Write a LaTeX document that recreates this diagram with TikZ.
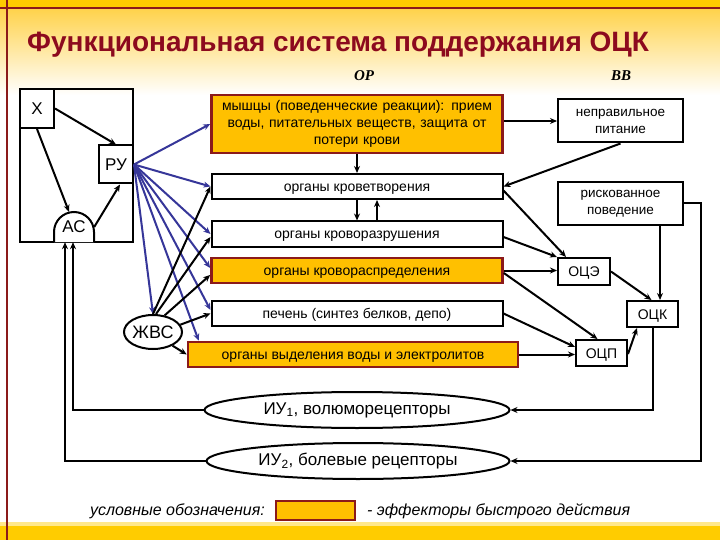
\documentclass[tikz,border=0pt]{standalone}
\usepackage{fontspec}
\setmainfont{Liberation Sans}
\newfontfamily\serifbi{Liberation Serif}
\usetikzlibrary{arrows.meta,shapes.geometric,calc}
\definecolor{dred}{HTML}{8B1A1A}
\definecolor{eff}{HTML}{FFC000}
\definecolor{navy}{HTML}{363699}
\definecolor{band}{HTML}{FFCC00}
\definecolor{titlec}{HTML}{8C0A1E}
\definecolor{grad}{HTML}{FFD24A}
\begin{document}
\begin{tikzpicture}[x=1pt,y=-1pt,
  box/.style={draw=black,line width=2pt,fill=white,inner sep=0pt,font=\fontsize{14}{17}\selectfont},
  sline/.style={text height=9.5pt,text depth=0pt},
  mbox/.style={box,align=center},
  effbox/.style={box,draw=dred,fill=eff,line width=2.6pt},
  smallbox/.style={box,font=\fontsize{14}{16}\selectfont,text height=10.5pt,text depth=0pt},
  bigtxt/.style={font=\fontsize{17}{17}\selectfont},
  arr/.style={line width=2pt,-{Stealth[length=7pt,width=6pt]}},
  barr/.style={arr,draw=navy},
  ell/.style={draw,ellipse,line width=2pt,fill=white,inner sep=0pt}]
\useasboundingbox (0,0) rectangle (720,540);
% background
\fill[white] (0,0) rectangle (720,540);
\shade[top color=grad,bottom color=white] (0,8) rectangle (720,95);
\fill[band] (0,0) rectangle (720,8);
\draw[dred,line width=1.5pt] (0,8) -- (720,8);
\fill[band] (0,523) rectangle (720,540);
\fill[band!45] (0,522) rectangle (720,526);
\draw[dred,line width=1.5pt] (7,0) -- (7,540);
% title
\node[anchor=base west,inner sep=0pt,text=titlec,font=\fontsize{28}{30}\selectfont\bfseries] (title) at (27,52) {Функциональная система поддержания ОЦК};
\node[anchor=base,inner sep=0pt,font=\serifbi\bfseries\itshape\fontsize{15}{15}\selectfont] (op) at (364,81) {ОР};
\node[anchor=base,inner sep=0pt,font=\serifbi\bfseries\itshape\fontsize{15}{15}\selectfont] (vv) at (621,81) {ВВ};
% left frame
\node[draw,line width=2pt,minimum width=113,minimum height=153,inner sep=0pt] (frame) at (76.5,165.5) {};
\node[box,bigtxt,minimum width=34,minimum height=39] (X) at (37,108.5) {Х};
\node[box,bigtxt,minimum width=34,minimum height=38] (RU) at (116,164.5) {РУ};
\draw[line width=2pt,fill=white] (54,242) -- (54,232) arc[start angle=180,end angle=360,radius=20] -- (94,242);
\node[bigtxt,minimum width=40,minimum height=30,inner sep=0pt] (AC) at (74,227) {\raisebox{-3pt}{АС}};
% effectors / organs
\node[effbox,align=center,minimum width=291,minimum height=58,text width=287] (mus) at (357,124) {мышцы (поведенческие реакции): прием\\воды, питательных веществ, защита от\\потери крови};
\node[box,sline,minimum width=291,minimum height=25] (krov) at (357,186.5) {органы кроветворения};
\node[box,sline,minimum width=291,minimum height=25] (razr) at (357,234) {органы кроворазрушения};
\node[effbox,sline,minimum width=291,minimum height=25] (raspr) at (357,270.5) {органы кровораспределения};
\node[box,sline,minimum width=291,minimum height=25] (pech) at (357,313.5) {печень (синтез белков, депо)};
\node[effbox,sline,minimum width=330,minimum height=25] (vyd) at (353,354.5) {органы выделения воды и электролитов};
% right column
\node[mbox,font=\fontsize{13.5}{17}\selectfont,minimum width=125,minimum height=43] (nepr) at (620.5,121) {неправильное\\питание};
\node[mbox,font=\fontsize{13.5}{17}\selectfont,minimum width=125,minimum height=43] (risk) at (620.5,203.5) {рискованное\\поведение};
\node[smallbox,minimum width=52,minimum height=27] (oce) at (584,271.5) {ОЦЭ};
\node[smallbox,minimum width=51,minimum height=26] (ock) at (652.5,314) {ОЦК};
\node[smallbox,minimum width=51,minimum height=26] (ocp) at (601.5,353) {ОЦП};
% ellipses
\node[ell,font=\fontsize{18}{18}\selectfont,minimum width=53,minimum height=34] (zhvs) at (153,332) {ЖВС};
\node[ell,font=\fontsize{17}{17}\selectfont,minimum width=305,minimum height=36] (iu1) at (357,410) {ИУ\textsubscript{1}, волюморецепторы};
\node[ell,font=\fontsize{17}{17}\selectfont,minimum width=303,minimum height=36] (iu2) at (358,461) {ИУ\textsubscript{2}, болевые рецепторы};
% legend
\node[effbox,minimum width=79,minimum height=19] (leg) at (315.5,510.5) {};
\node[anchor=east,inner sep=0pt,font=\itshape\fontsize{16}{16}\selectfont] (legl) at (265,511) {условные обозначения:};
\node[anchor=west,inner sep=0pt,font=\itshape\fontsize{16}{16}\selectfont] (legr) at (367,511) {- эффекторы быстрого действия};
% arrows inside frame
\draw[arr] (X.east) -- (RU.north);
\draw[arr] (X.south) -- ([xshift=-5]AC.north);
\draw[arr] (AC.east) -- ([xshift=4]RU.south);
% blue arrows from RU
\draw[barr] (RU.east) -- (mus.west);
\draw[barr] (RU.east) -- (krov.west);
\draw[barr] (RU.east) -- (razr.west);
\draw[barr] (RU.east) -- ([yshift=2.5]raspr.west);
\draw[barr] (RU.east) -- ([yshift=3.5]pech.west);
\draw[barr] (RU.east) -- ([xshift=12]vyd.north west);
\draw[barr] (RU.east) -- (zhvs.north);
% black arrows from ZhVS
\draw[arr] (zhvs.north) -- (krov.west);
\draw[arr] ([xshift=3]zhvs.north) -- ([yshift=-3]razr.west);
\draw[arr] (zhvs.55) -- ([yshift=-4.5]raspr.west);
\draw[arr] (zhvs.15) -- (pech.west);
\draw[arr] (zhvs.-35) -- (vyd.west);
% central vertical arrows
\draw[arr] (mus.south) -- (krov.north);
\draw[arr] (krov.south) -- (razr.north);
\draw[arr] ([xshift=20]razr.north) -- ([xshift=20]krov.south);
% right side arrows
\draw[arr] (mus.east |- nepr.west) -- (nepr.west);
\draw[arr] (nepr.south) -- (krov.east);
\draw[arr] ([yshift=-4]krov.east) -- ([xshift=9]oce.north west);
\draw[arr] ([yshift=-3]razr.east) -- (oce.north west);
\draw[arr] (raspr.east) -- (raspr.east -| oce.west);
\draw[arr] ([yshift=-2.5]raspr.east) -- ([xshift=-4]ocp.north);
\draw[arr] (pech.east) -- ([yshift=6]ocp.west);
\draw[arr] (vyd.east) -- (vyd.east -| ocp.west);
\draw[arr] (oce.east) -- ([xshift=-1]ock.north);
\draw[arr] ([yshift=-1]ocp.east) -- ([xshift=11]ock.south west);
\draw[arr] ([xshift=39.5]risk.south) -- ([xshift=7.5]ock.north);
\draw[arr] (risk.east) -- ++(17,0) |- (iu2.east);
\draw[arr] (ock.south) |- (iu1.east);
\draw[arr] (iu1.west) -| ([xshift=-1]AC.south);
\draw[arr] (iu2.west) -| ([xshift=-9]AC.south);
\end{tikzpicture}
\end{document}
